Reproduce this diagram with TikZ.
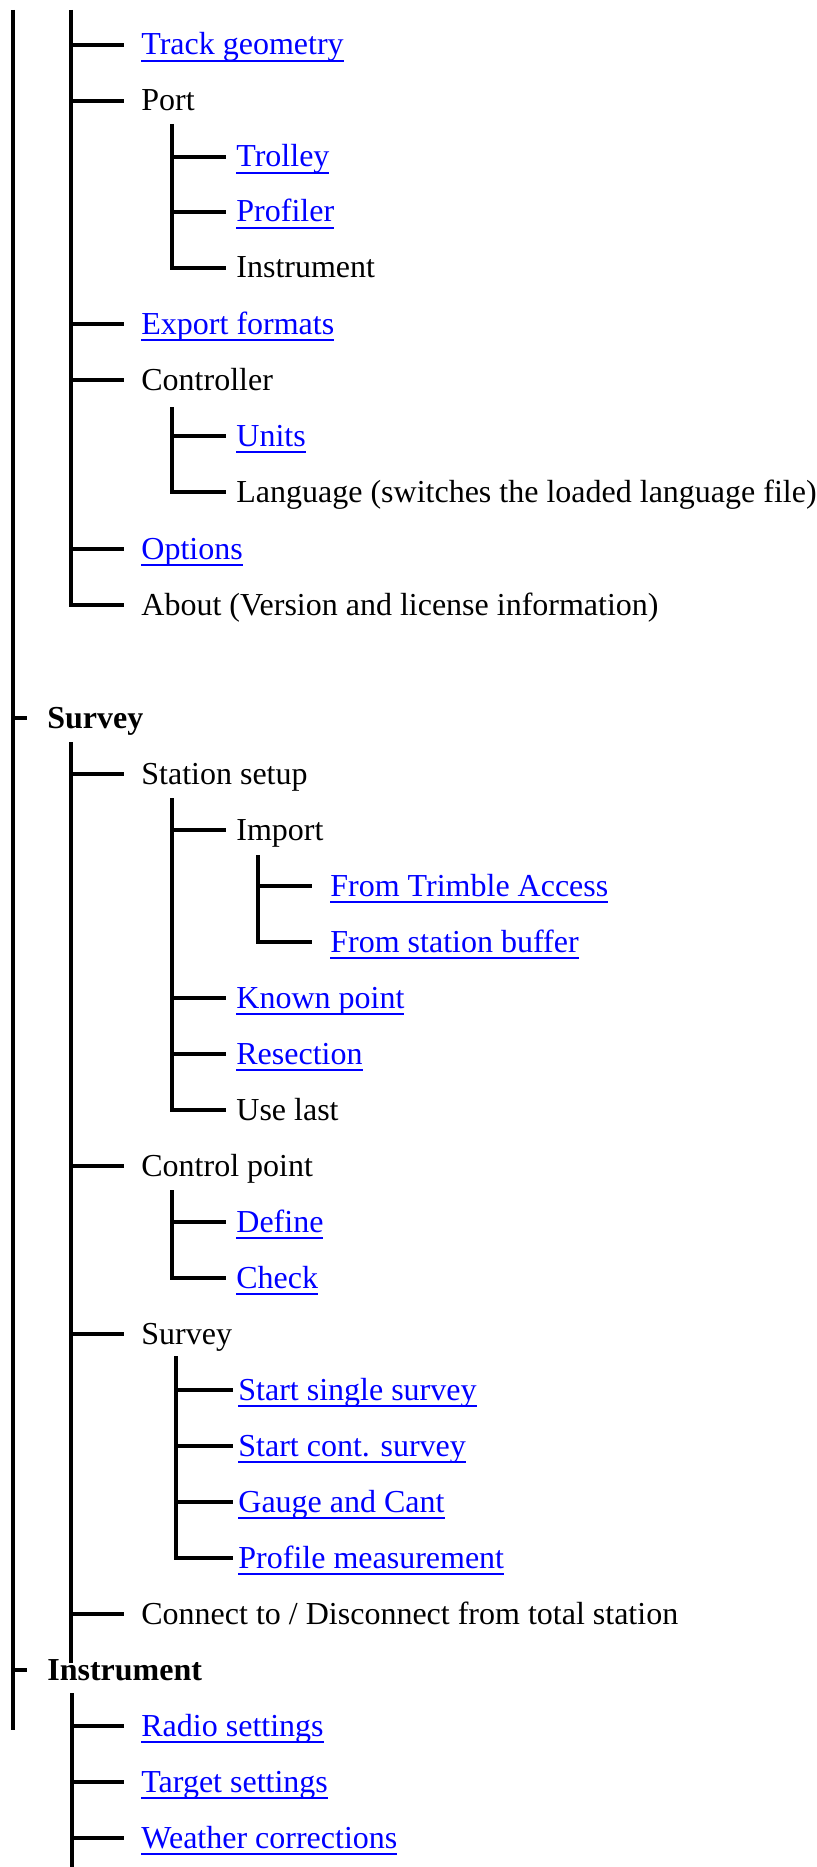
\documentclass[tikz,border=0pt]{standalone}
\usepackage{fontspec}
\setmainfont{Liberation Serif}
\definecolor{linkblue}{RGB}{0,0,255}
\newsavebox\linkbox
\newcommand\menulink[1]{\textcolor{linkblue}{\sbox\linkbox{#1}\rlap{\rule[-3.3pt]{\wd\linkbox}{0.8pt}}\usebox\linkbox}}
\begin{document}
\begin{tikzpicture}[x=0.5pt,y=-0.5pt,
  branch/.style={line width=1.8pt},
  mitem/.style={anchor=west, inner ysep=0pt, text height=12pt, text depth=2pt, font=\fontsize{16}{19}\selectfont},
  lvroot/.style={mitem, inner xsep=10pt, font=\fontsize{16}{19}\selectfont\bfseries},
  lvone/.style={mitem, inner xsep=8.5pt},
  lvtwo/.style={mitem, inner xsep=5pt},
  lvthree/.style={mitem, inner xsep=9pt}]
\useasboundingbox (0,0) rectangle (817,1867);
% main line
\coordinate (rtop) at (13,10);
\coordinate (rend) at (13,1730);
\draw[branch] (rtop) -- (rend);
% upper part, parent is above the picture
\coordinate (atop) at (71,10);
\node[lvone] (track) at (124,45) {\menulink{Track geometry}};
\node[lvone] (port) at (124,101) {Port};
\node[lvone] (export) at (124,324) {\menulink{Export formats}};
\node[lvone] (ctrl) at (124,380) {Controller};
\node[lvone] (opts) at (124,549) {\menulink{Options}};
\node[lvone] (about) at (124,605) {About (Version and license information)};
\draw[branch] (atop) |- (track.west) (atop) |- (port.west) (atop) |- (export.west)
  (atop) |- (ctrl.west) (atop) |- (opts.west) (atop) |- (about.west);
\coordinate (ptop) at (172,124);
\node[lvtwo] (trolley) at (226,157) {\menulink{Trolley}};
\node[lvtwo] (profiler) at (226,212) {\menulink{Profiler}};
\node[lvtwo] (instr) at (226,268) {Instrument};
\draw[branch] (ptop) |- (trolley.west) (ptop) |- (profiler.west) (ptop) |- (instr.west);
\coordinate (ctop) at (172,407);
\node[lvtwo] (units) at (226,436) {\menulink{Units}};
\node[lvtwo] (lang) at (226,492) {Language (switches the loaded language file)};
\draw[branch] (ctop) |- (units.west) (ctop) |- (lang.west);
% survey
\node[lvroot] (survey) at (27,718) {Survey};
\draw[branch] (survey.west -| rtop) -- (survey.west);
\coordinate (stop) at (71,742);
\coordinate (send) at (71,1663);
\draw[branch] (stop) -- (send);
\node[lvone] (setup) at (124,774) {Station setup};
\node[lvone] (ctlpt) at (124,1166) {Control point};
\node[lvone] (meas) at (124,1334) {Survey};
\node[lvone] (connect) at (124,1614) {Connect to / Disconnect from total station};
\draw[branch] (setup.west -| stop) -- (setup.west) (ctlpt.west -| stop) -- (ctlpt.west)
  (meas.west -| stop) -- (meas.west) (connect.west -| stop) -- (connect.west);
\coordinate (sttop) at (172,798);
\node[lvtwo] (import) at (226,830) {Import};
\node[lvtwo] (known) at (226,998) {\menulink{Known point}};
\node[lvtwo] (resect) at (226,1054) {\menulink{Resection}};
\node[lvtwo] (uselast) at (226,1110) {Use last};
\draw[branch] (sttop) |- (import.west) (sttop) |- (known.west) (sttop) |- (resect.west) (sttop) |- (uselast.west);
\coordinate (itop) at (258,855);
\node[lvthree] (trimble) at (312,886) {\menulink{From Trimble Access}};
\node[lvthree] (buffer) at (312,942) {\menulink{From station buffer}};
\draw[branch] (itop) |- (trimble.west) (itop) |- (buffer.west);
\coordinate (cptop) at (172,1190);
\node[lvtwo] (define) at (226,1222) {\menulink{Define}};
\node[lvtwo] (check) at (226,1278) {\menulink{Check}};
\draw[branch] (cptop) |- (define.west) (cptop) |- (check.west);
\coordinate (svtop) at (176,1356);
\node[lvtwo, inner xsep=2.5pt] (single) at (233,1390) {\menulink{Start single survey}};
\node[lvtwo, inner xsep=2.5pt] (cont) at (233,1446) {\menulink{Start cont. survey}};
\node[lvtwo, inner xsep=2.5pt] (gauge) at (233,1502) {\menulink{Gauge and Cant}};
\node[lvtwo, inner xsep=2.5pt] (profile) at (233,1558) {\menulink{Profile measurement}};
\draw[branch] (svtop) |- (single.west) (svtop) |- (cont.west) (svtop) |- (gauge.west) (svtop) |- (profile.west);
% instrument
\node[lvroot] (instrument) at (27,1670) {Instrument};
\draw[branch] (instrument.west -| rtop) -- (instrument.west);
\coordinate (intop) at (72,1693);
\coordinate (inend) at (72,1867);
\draw[branch] (intop) -- (inend);
\node[lvone] (radio) at (124,1726) {\menulink{Radio settings}};
\node[lvone] (target) at (124,1782) {\menulink{Target settings}};
\node[lvone] (weather) at (124,1838) {\menulink{Weather corrections}};
\draw[branch] (radio.west -| intop) -- (radio.west) (target.west -| intop) -- (target.west)
  (weather.west -| intop) -- (weather.west);
\end{tikzpicture}
\end{document}
